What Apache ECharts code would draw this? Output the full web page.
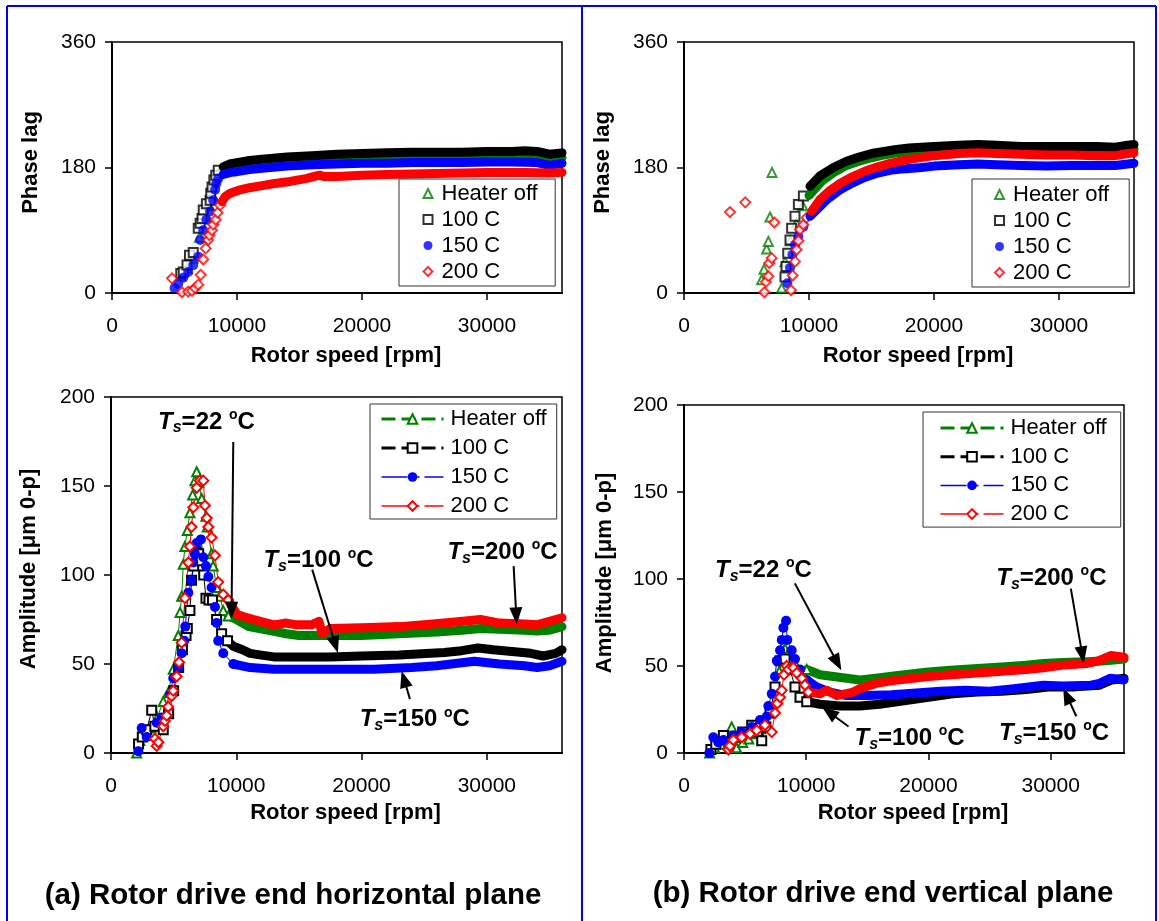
<!DOCTYPE html>
<html><head><meta charset="utf-8">
<script src="https://cdn.jsdelivr.net/npm/echarts@6/dist/echarts.min.js"></script>
<style>html,body{margin:0;padding:0;background:#fff}#c{width:1159px;height:921px}</style>
</head><body><div id="c"></div><script>
// ---------------- DATA (rpm, value) ----------------
const seriesNames = ['Heater off', '100 C', '150 C', '200 C'];
const xTicks = [0, 10000, 20000, 30000];
const phaseTicks = [0, 180, 360];
const ampTicks = [0, 50, 100, 150, 200];
const captions = ['(a) Rotor drive end horizontal plane', '(b) Rotor drive end vertical plane'];

// (a) horizontal plane - phase lag
const tlHeaterOff = [[5500,25],[6000,35],[6500,50],[7000,80],[7500,110],[7800,125],[8000,140],[8200,158],[8500,172],[9000,178],[10000,182],[11000,185],[12000,187],[14000,190],[16000,192],[18000,193],[20000,194],[22000,195],[25000,195],[28000,196],[30000,196],[32000,196],[34000,196],[35000,192],[36000,194]];
const tl100 = [[5500,28],[5700,30],[6000,40],[6200,54],[6500,58],[6900,93],[7050,100],[7200,107],[7300,119],[7550,128],[7850,133],[7900,143],[8000,152],[8150,162],[8300,169],[8500,176],[8900,181],[9400,185],[10000,187],[11000,190],[12000,192],[14000,195],[16000,197],[18000,199],[20000,200],[22000,201],[24000,202],[26000,202],[28000,202],[30000,203],[32000,203],[33000,204],[34000,203],[35000,199],[36000,201]];
const tl150 = [[5000,7],[5300,13],[5700,22],[6100,30],[6500,40],[6900,52],[7050,76],[7300,90],[7550,105],[7850,117],[8100,133],[8250,148],[8350,157],[8500,164],[8900,170],[9500,173],[10000,174],[11000,177],[12000,179],[14000,182],[16000,184],[18000,185],[20000,186],[22000,186],[24000,187],[26000,187],[28000,187],[30000,188],[32000,188],[34000,187],[35000,183],[36000,186]];
const tl200 = [[4800,21],[5600,1],[6100,2],[6400,3],[6650,7],[6900,12],[7100,26],[7300,48],[7500,64],[7700,76],[7800,83],[8000,90],[8100,98],[8300,105],[8450,115],[8650,126],[8800,131],[9050,138],[9450,143],[10250,148],[11000,151],[12000,154],[13000,157],[14250,160],[15500,164],[16600,169],[17000,167],[18000,167],[20000,169],[22000,170],[25000,171],[28000,172],[30000,173],[33000,173],[35000,172],[36000,173]];

// (b) vertical plane - phase lag
const trHeaterOff = [[6210,19],[6400,34],[6610,63],[6750,74],[6880,109],[7040,173],[7810,7],[8080,45],[8500,75],[9000,100],[9500,125],[10000,140],[11000,160],[12000,173],[13000,183],[14000,189],[15000,194],[16000,198],[17000,201],[18000,203],[20000,205],[22000,207],[24000,207],[26000,206],[28000,205],[30000,205],[32000,205],[34000,205],[35000,206],[36000,207]];
const tr100 = [[8080,23],[8160,38],[8300,57],[8480,76],[8610,93],[8880,110],[9150,127],[9550,139],[10080,153],[10880,168],[11950,180],[13000,189],[14000,195],[15000,200],[16000,203],[17000,206],[18000,208],[20000,210],[22000,212],[23500,213],[25000,212],[27000,210],[29000,210],[31000,210],[33000,210],[34500,209],[35500,212],[36000,213]];
const tr150 = [[8270,14],[8480,36],[8670,55],[8880,69],[9150,81],[9550,95],[10080,110],[10880,124],[11500,135],[12480,148],[13500,158],[14500,166],[15500,172],[16500,176],[17500,178],[19000,180],[20000,182],[22000,184],[23500,185],[25000,184],[27000,183],[29000,182],[31000,183],[33000,183],[34500,183],[35500,185],[36000,186]];
const tr200 = [[3680,116],[4900,130],[6430,1],[6560,16],[6750,24],[6830,43],[7010,50],[7230,101],[8560,4],[8690,25],[8880,45],[9010,62],[9150,75],[9280,91],[9550,98],[9810,108],[10210,117],[10880,134],[11600,146],[12480,157],[13500,167],[14500,175],[15500,181],[16500,186],[17500,190],[18500,193],[20000,197],[22000,200],[23500,201],[25000,200],[27000,199],[29000,198],[31000,198],[33000,197],[34500,197],[35500,200],[36000,201]];

// (a) horizontal plane - amplitude
const blHeaterOff = [[2050,0],[2300,7],[2700,10],[3200,14],[3700,20],[4170,29],[4570,34],[4970,47],[5370,66],[5510,79],[5640,88],[5770,106],[5900,116],[6090,125],[6300,135],[6520,145],[6700,153],[6840,158],[7000,152],[7240,143],[7580,133],[7690,127],[8030,112],[8160,105],[8430,93],[8700,88],[8960,80],[9360,77],[10000,75],[11000,71],[12500,69],[14000,67],[15000,66],[17000,66],[20000,66],[23000,67],[26000,68],[28000,69],[29500,70],[31000,69.5],[33000,69],[34000,68.5],[35000,69],[36000,71]];
const bl100 = [[2200,5],[2500,9],[2850,13],[3250,24],[3500,15],[4170,13],[4600,22],[5000,35],[5400,48],[5700,58],[5990,66],[6090,70],[6300,80],[6430,97],[6600,105],[6790,113],[7000,112],[7200,108],[7400,100],[7580,87],[7820,86],[8100,86],[8430,75],[8830,67],[9300,63],[9760,60],[10500,58],[11100,56],[12000,55],[13000,54],[15000,54],[17500,54],[20000,54.5],[23000,55],[26600,56.5],[28000,57.5],[29300,59],[30500,58],[32000,57],[33500,56],[34500,54.5],[35500,56],[36000,58]];
const bl150 = [[2180,1],[2450,14],[2850,9],[3650,17],[4050,20],[4710,33],[4970,42],[5370,48],[5640,56],[5850,63],[5930,71],[6170,90],[6430,97],[6570,107],[6700,112],[6840,118],[7180,120],[7370,110],[7580,105],[7770,99],[8030,93],[8300,82],[8430,73],[8560,63],[8960,56],[9760,50],[11100,48],[13000,47],[15000,47],[18000,47],[21000,47],[24000,48],[26000,49],[29000,51.5],[31000,50],[33000,49],[34000,48],[35000,49],[36000,51.5]];
const bl200 = [[3510,8],[3650,4],[3780,6],[4170,15],[4310,18],[4440,21],[4570,26],[4840,32],[4970,35],[5240,43],[5430,51],[5640,62],[5900,87],[6170,107],[6300,116],[6430,127],[6570,138],[6840,149],[7100,153],[7370,153],[7500,139],[7640,132],[7770,127],[8030,121],[8300,111],[8560,96],[8960,89],[9360,86],[10030,78],[10830,76],[11900,74],[13000,72],[14000,73],[14800,72],[16000,72],[16600,74],[16850,67],[17500,70],[20700,70.5],[23000,71],[25000,72],[28100,74],[29500,75],[31000,73],[33000,72.5],[34000,72],[35000,74],[36000,76]];

// (b) vertical plane - amplitude
const brHeaterOff = [[2100,0],[2500,3],[3000,5],[3500,8],[3900,15],[4300,3],[4800,6],[5300,8],[5800,11],[6300,14],[6800,17],[7200,25],[7500,35],[7800,47],[8130,55],[8270,60],[8500,57],[8800,54],[9080,51.5],[10040,48],[11130,45],[12220,44],[13310,43],[14400,42],[15700,43],[17500,44.5],[20000,46.5],[21800,47.5],[24000,48.5],[26000,49.5],[28000,50.5],[29400,51.5],[31000,52],[33000,52.5],[34500,53],[36000,54]];
const br100 = [[2200,2],[2600,5],[3220,10],[3700,6],[4200,9],[4800,12],[5540,16],[6000,12],[6360,7],[6700,15],[7040,23],[7450,38],[7860,53],[8270,54],[8680,48],[9080,38],[9490,32],[10040,29.5],[11130,28],[12770,27],[14400,27],[16000,28],[18000,30],[20000,32],[22000,34],[24000,35],[26000,35.5],[28000,36.5],[30000,38],[32000,38],[34000,39],[35000,42],[36000,43]];
const br150 = [[2070,0],[2400,9],[2810,6],[3220,7.5],[4040,10],[4720,12],[5540,15],[6220,19],[6770,21],[6900,27],[7180,34],[7450,44],[7590,53],[7860,59],[8000,65],[8130,72],[8350,76],[8450,65],[8810,59],[9080,54],[9490,48],[10040,42],[10860,38],[11950,35],[13300,33],[15000,33],[17000,33.5],[19000,34.5],[21000,35.5],[23000,36],[25000,35.5],[27000,37],[29400,39],[31000,38.5],[33300,39],[34000,40],[34900,43],[36000,42]];
const br200 = [[3630,2],[3760,4],[4040,7.5],[4720,9],[5400,11],[5950,13],[6630,16],[7180,12],[7450,23],[7640,28.5],[7860,32],[8000,36],[8180,45],[8400,50],[8540,48],[8940,49],[9220,46],[9630,43],[9900,39],[10170,35],[11130,34],[11680,36],[12500,33],[13850,35],[14400,37],[15700,40],[17500,42],[20000,44],[21800,45],[24000,46],[26000,47],[28000,48],[29400,49],[31000,50.5],[33000,51.5],[33900,53],[34900,56],[36000,55]];

// annotation temperatures (Ts labels)
const blTemps = ['22', '100', '200', '150'];
const brTemps = ['22', '100', '200', '150'];

// ---------------- STYLE / LAYOUT ----------------
const FONT = '"Liberation Sans", Arial, Helvetica, sans-serif';
const STY = [
  {color:'#008000', symbol:'emptyTriangle', size:9, legLine:{width:3, type:[14,6]}},
  {color:'#000000', symbol:'emptyRect', size:9, legLine:{width:3, type:[14,6]}},
  {color:'#0000ff', symbol:'circle', size:10, legLine:{width:1.5, type:[26,5,7,5]}},
  {color:'#ff0000', symbol:'emptyDiamond', size:10, legLine:{width:1.5, type:[26,5,7,5]}}
];
// annotation placement (data coordinates of the chart's axes): label centre, arrow start -> arrow end
const blAnn = {labels:[[7620,186],[16560,108],[31250,112.7],[24250,18.7]],
  arrows:[[9760,174.7,9625,80.3],[16060,103,17910,60.8],[32140,105,32350,77],[23860,30.3,23390,41.5]]};
const brAnn = {labels:[[6500,105],[18460,8.3],[30060,100.4],[30280,11.3]],
  arrows:[[9070,97.5,12545,51.9],[13460,15.2,11870,23.4],[31650,94.5,32590,56.4],[32100,21.1,31320,32.9]]};

const panels = [
  {kind:'phase', grid:{left:112, top:42, width:450, height:251}, data:[tlHeaterOff,tl100,tl150,tl200], split:8800,
   yMax:360, yInt:180, yTicks:phaseTicks, yName:'Phase lag', yGap:70, yPad:[0,0,0,10], xGap:52,
   legend:{left:399, top:179, padding:[3.5,17.5,3.5,23.5]}},
  {kind:'phase', grid:{left:684, top:42, width:450, height:251}, data:[trHeaterOff,tr100,tr150,tr200], split:10000,
   yMax:360, yInt:180, yTicks:phaseTicks, yName:'Phase lag', yGap:70, yPad:[0,0,0,10], xGap:52,
   legend:{left:972, top:179, padding:[4.5,20,3.5,22]}},
  {kind:'amp', grid:{left:111, top:397, width:451, height:356}, data:[blHeaterOff,bl100,bl150,bl200], split:9000,
   yMax:200, yInt:50, yTicks:ampTicks, yName:'Amplitude [μm 0-p]', yGap:71, yPad:[0,0,0,12], xGap:49,
   legend:{left:370, top:404, padding:[4,10,2,10], itemWidth:62}, ann:blAnn, temps:blTemps},
  {kind:'amp', grid:{left:684, top:405, width:440, height:348}, data:[brHeaterOff,br100,br150,br200], split:10000,
   yMax:200, yInt:50, yTicks:ampTicks, yName:'Amplitude [μm 0-p]', yGap:68, yPad:[0,0,0,12], xGap:49,
   legend:{left:923, top:412, padding:[5,14,2,16], itemWidth:63, itemGap:6.7}, ann:brAnn, temps:brTemps}
];

function splitAt(arr, t) {
  const a = [], b = [];
  arr.forEach(p => (p[0] < t ? a : b).push(p));
  return [a, b];
}

const grids = [], xAxes = [], yAxes = [], series = [], legends = [];
const richStyles = {
  t:{fontSize:24, fontWeight:'bold', fontStyle:'italic', fontFamily:FONT, lineHeight:28, color:'#000'},
  s:{fontSize:16, fontWeight:'bold', fontStyle:'italic', fontFamily:FONT, lineHeight:16, verticalAlign:'bottom', color:'#000'},
  m:{fontSize:24, fontWeight:'bold', fontFamily:FONT, lineHeight:28, color:'#000'},
  o:{fontSize:14, fontWeight:'bold', fontFamily:FONT, lineHeight:14, verticalAlign:'top', color:'#000'}
};
const plain = v => String(v);

panels.forEach((p, i) => {
  grids.push(Object.assign({show:true, borderColor:'#000', borderWidth:1.5, backgroundColor:'transparent'}, p.grid));
  xAxes.push({type:'value', gridIndex:i, min:0, max:36000, interval:10000,
    axisLine:{show:true, onZero:false, lineStyle:{color:'#000', width:2}},
    axisTick:{show:true, inside:false, length:7, customValues:xTicks, lineStyle:{color:'#000', width:1.5}},
    axisLabel:{customValues:xTicks, formatter:plain, fontSize:21, color:'#000', fontFamily:FONT, margin:23},
    splitLine:{show:false},
    name:'Rotor speed [rpm]', nameLocation:'middle', nameGap:p.xGap,
    nameTextStyle:{fontSize:22, fontWeight:'bold', color:'#000', fontFamily:FONT, padding:[0,0,0,18]}});
  yAxes.push({type:'value', gridIndex:i, min:0, max:p.yMax, interval:p.yInt,
    axisLine:{show:true, onZero:false, lineStyle:{color:'#000', width:2}},
    axisTick:{show:true, inside:false, length:7, customValues:p.yTicks, lineStyle:{color:'#000', width:1.5}},
    axisLabel:{customValues:p.yTicks, formatter:plain, fontSize:21, color:'#000', fontFamily:FONT, margin:16},
    splitLine:{show:false},
    name:p.yName, nameLocation:'middle', nameGap:p.yGap,
    nameTextStyle:{fontSize:22, fontWeight:'bold', color:'#000', fontFamily:FONT, padding:p.yPad}});

  p.data.forEach((arr, j) => {
    const s = STY[j];
    const [a, b] = splitAt(arr, p.split);
    if (p.kind === 'phase') {
      series.push({type:'scatter', name:seriesNames[j], xAxisIndex:i, yAxisIndex:i, data:a,
        symbol:s.symbol, symbolSize:s.size, itemStyle:{color:s.color}, silent:true});
      series.push({type:'line', name:'band', xAxisIndex:i, yAxisIndex:i, data:b, symbol:'none', showSymbol:false,
        lineStyle:{color:s.color, width:9, join:'round', cap:'round'}, itemStyle:{color:s.color}, silent:true});
    } else {
      series.push({type:'line', name:'B|' + seriesNames[j], xAxisIndex:i, yAxisIndex:i, data:a.concat(b.slice(0,1)),
        symbol:s.symbol, symbolSize:s.size, showSymbol:true, showAllSymbol:true,
        lineStyle:{color:s.color, width:1}, itemStyle:{color:s.color}, silent:true});
      series.push({type:'line', name:'band', xAxisIndex:i, yAxisIndex:i, data:b, symbol:'none', showSymbol:false,
        lineStyle:{color:s.color, width:9, join:'round', cap:'round'}, itemStyle:{color:s.color}, silent:true});
    }
  });

  if (p.ann) {
    series.push({type:'line', name:'ann', xAxisIndex:i, yAxisIndex:i, data:[], silent:true, z:10,
      markLine:{silent:true, animation:false, symbol:['none','triangle'], symbolSize:[13,17],
        label:{show:false}, lineStyle:{color:'#000', width:2, type:'solid'},
        data:p.ann.arrows.map(r => [{coord:[r[0], r[1]]}, {coord:[r[2], r[3]]}])},
      markPoint:{silent:true, animation:false, symbol:'circle', symbolSize:1, itemStyle:{color:'rgba(0,0,0,0)'},
        label:{show:true, position:'inside', rich:richStyles},
        data:p.ann.labels.map((c, k) => ({coord:c, label:{formatter:'{t|T}{s|s}{m|=' + p.temps[k] + ' }{o|o}{m|C}'}}))}
    });
  }

  const isAmp = p.kind === 'amp';
  legends.push(Object.assign({
    orient:'vertical', selectedMode:false, backgroundColor:'#fff', borderColor:'#333', borderWidth:1, borderRadius:0,
    itemWidth: isAmp ? 62 : 9, itemHeight: isAmp ? 12 : 9, itemGap: isAmp ? 7 : 4,
    textStyle:{fontSize:22, lineHeight: isAmp ? 22 : 21, color:'#000', fontFamily:FONT, padding:[0,0,0, isAmp ? 2 : 4]},
    formatter: n => n.replace('B|', ''),
    data: isAmp ? seriesNames.map((n, j) => ({name:'B|' + n, lineStyle:STY[j].legLine})) : seriesNames.slice()
  }, p.legend));
});

const blue = {stroke:'#0000ff', lineWidth:2};
const graphic = [
  {type:'line', shape:{x1:7, y1:6, x2:1156, y2:6}, style:blue, silent:true},
  {type:'line', shape:{x1:7, y1:6, x2:7, y2:921}, style:blue, silent:true},
  {type:'line', shape:{x1:582, y1:6, x2:582, y2:921}, style:blue, silent:true},
  {type:'line', shape:{x1:1156, y1:6, x2:1156, y2:921}, style:blue, silent:true},
  {type:'text', x:293, y:896, silent:true, style:{text:captions[0], fontSize:29.5, fontWeight:'bold', fontFamily:FONT, fill:'#000', align:'center', verticalAlign:'middle'}},
  {type:'text', x:883, y:894, silent:true, style:{text:captions[1], fontSize:29.5, fontWeight:'bold', fontFamily:FONT, fill:'#000', align:'center', verticalAlign:'middle'}}
];

const chart = echarts.init(document.getElementById('c'), null, {renderer:'canvas'});
chart.setOption({
  animation:false, backgroundColor:'#fff',
  textStyle:{fontFamily:FONT},
  grid:grids, xAxis:xAxes, yAxis:yAxes, series:series, legend:legends, graphic:graphic
});
</script></body></html>
